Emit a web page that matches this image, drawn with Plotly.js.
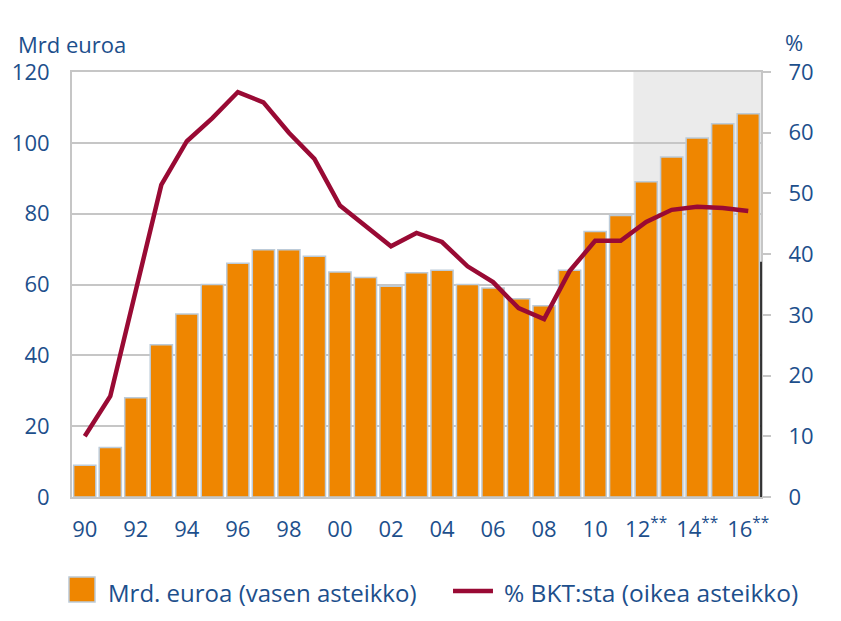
<!DOCTYPE html>
<html>
<head>
<meta charset="utf-8">
<script src="https://cdn.plot.ly/plotly-3.0.1.min.js"></script>
<style>
  body { margin: 0; background: #fff; }
  #graph { width: 841px; height: 621px; }
</style>
</head>
<body>
<div id="graph"></div>
<script>
// years 1990..2016 (12-16 are forecasts)
var years = [1990, 1991, 1992, 1993, 1994, 1995, 1996, 1997, 1998, 1999, 2000, 2001, 2002, 2003,
             2004, 2005, 2006, 2007, 2008, 2009, 2010, 2011, 2012, 2013, 2014, 2015, 2016];

// billions of euros (left scale)
var mrdEuroa = [9, 14, 28, 43, 51.7, 60, 66, 69.8, 69.8, 68, 63.5, 62, 59.5, 63.3,
                64, 60, 59, 56, 54, 64, 75, 79.5, 89, 96, 101.4, 105.4, 108.2];

// percent of GDP (right scale)
var pctBkt = [10, 16.6, 34, 51.4, 58.6, 62.4, 66.7, 65, 60, 55.7, 48, 44.6, 41.3, 43.5,
              42, 38, 35.4, 31.1, 29.3, 37.2, 42.2, 42.2, 45.3, 47.3, 47.8, 47.6, 47.1];

var tickYears = [1990, 1992, 1994, 1996, 1998, 2000, 2002, 2004, 2006, 2008, 2010, 2012, 2014, 2016];
var tickLabels = ["90", "92", "94", "96", "98", "00", "02", "04", "06", "08", "10",
                  "12<sup>**</sup>", "14<sup>**</sup>", "16<sup>**</sup>"];

var forecastStart = 2011.5;

function drawGraph() {
    var blue = "#1d4f8c";
    var grid = "#c6c6c6";
    var fontFam = "'Open Sans', sans-serif";

    var bars = {
        x: years,
        y: mrdEuroa,
        type: "bar",
        marker: { color: "#ef8600", line: { color: "#bccbd9", width: 1.5 } },
        showlegend: false,
        hoverinfo: "skip"
    };

    var line = {
        x: years,
        y: pctBkt,
        yaxis: "y2",
        type: "scatter",
        mode: "lines",
        line: { color: "#990a34", width: 4.5 },
        showlegend: false,
        hoverinfo: "skip"
    };

    var layout = {
        width: 841,
        height: 621,
        margin: { l: 72, r: 80, t: 72, b: 124 },
        paper_bgcolor: "#ffffff",
        plot_bgcolor: "#ffffff",
        font: { family: fontFam, color: blue, size: 22 },
        bargap: 0.13,
        xaxis: {
            range: [1989.5, 2016.5],
            tickvals: tickYears,
            ticktext: tickLabels,
            showgrid: false,
            zeroline: false,
            showline: true,
            mirror: true,
            linecolor: grid,
            linewidth: 2,
            ticks: "",
            ticklabelstandoff: 12,
            tickfont: { size: 22, color: blue }
        },
        yaxis: {
            range: [0, 120],
            dtick: 20,
            showgrid: true,
            gridcolor: grid,
            gridwidth: 2,
            zeroline: false,
            showline: true,
            linecolor: grid,
            linewidth: 2,
            ticks: "",
            ticklabelstandoff: 16,
            tickfont: { size: 22, color: blue }
        },
        yaxis2: {
            range: [0, 70],
            dtick: 10,
            overlaying: "y",
            side: "right",
            showgrid: false,
            zeroline: false,
            showline: true,
            linecolor: grid,
            linewidth: 2,
            ticks: "outside",
            ticklen: 8,
            tickwidth: 2,
            tickcolor: grid,
            ticklabelstandoff: 13,
            tickfont: { size: 22, color: blue }
        },
        shapes: [
            // forecast area
            { type: "rect", xref: "x", yref: "paper", x0: forecastStart, x1: 2016.5, y0: 0, y1: 1,
              fillcolor: "#ebebeb", line: { width: 0 }, layer: "below" },
            // dark lower part of the right frame
            { type: "line", xref: "paper", yref: "y", x0: 1, x1: 1, y0: 0, y1: 66.4,
              line: { color: "#000000", width: 1.5 } },
            // legend markers
            { type: "rect", xref: "paper", yref: "paper", x0: -0.0044, x1: 0.0334, y0: -0.247, y1: -0.188,
              fillcolor: "#ef8600", line: { color: "#bccbd9", width: 1.5 } },
            { type: "line", xref: "paper", yref: "paper", x0: 0.553, x1: 0.611, y0: -0.221, y1: -0.221,
              line: { color: "#990a34", width: 4.5 } }
        ],
        annotations: [
            { text: "Mrd euroa", xref: "paper", yref: "paper", x: -0.081, y: 1.067,
              xanchor: "left", yanchor: "middle", showarrow: false, font: { size: 22, color: blue } },
            { text: "%", xref: "paper", yref: "paper", x: 1.032, y: 1.071,
              xanchor: "left", yanchor: "middle", showarrow: false, font: { size: 22, color: blue } },
            { text: "Mrd. euroa (vasen asteikko)", xref: "paper", yref: "paper", x: 0.05, y: -0.224,
              xanchor: "left", yanchor: "middle", showarrow: false, font: { size: 24, color: blue } },
            { text: "% BKT:sta (oikea asteikko)", xref: "paper", yref: "paper", x: 0.624, y: -0.224,
              xanchor: "left", yanchor: "middle", showarrow: false, font: { size: 24.5, color: blue } }
        ]
    };

    Plotly.newPlot("graph", [bars, line], layout, { staticPlot: true });
}

drawGraph();
</script>
</body>
</html>
